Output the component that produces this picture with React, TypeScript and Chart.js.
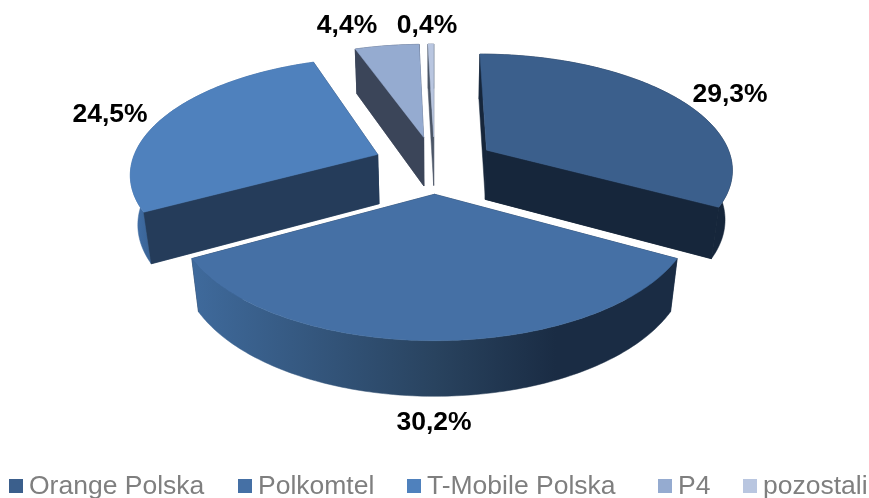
import React, { useEffect, useRef } from "react";
import { Chart, registerables } from "chart.js";

Chart.register(...registerables);

const categories = ["Orange Polska", "Polkomtel", "T-Mobile Polska", "P4", "pozostali"];
const shares = [29.3, 30.2, 24.5, 4.4, 0.4];
const topColors = ["#3b5f8c", "#4570a5", "#4f81bd", "#95abd0", "#b9c6e0"];
const wallColors = ["#16263b", "#1a2d47", "#253c5a", "#3b4559", "#4a5566"];
const rimStops: [number, string][][] = [
  [[0, "#16263b"], [1, "#16263b"]],
  [[0, "#3f6a9c"], [0.5, "#29435f"], [0.75, "#1a2c44"], [1, "#1a2c44"]],
  [[0, "#4372ab"], [0.1, "#3a6497"], [1, "#3a6497"]],
  [[0, "#3b4559"], [1, "#3b4559"]],
  [[0, "#4a5566"], [1, "#4a5566"]],
];
const drawOrder = [2, 3, 4, 0, 1];
const labelCenters = [
  [730, 102],
  [434, 430],
  [110, 122],
  [347, 33],
  [427, 33],
];
const legendX = [9, 238, 407, 658, 743];

const CX = 434.5, CY = 164.5, RX = 246.5, RY = 114.5, K = 0.15, KZ = 0.025, EXPLODE = 0.25, DEPTH = 51;
const FONT = '"Liberation Sans", Arial, sans-serif';

function project(X: number, Y: number, z: number) {
  const w = 1 + K * Y + KZ * z;
  return { x: CX + (RX * X) / w, y: CY - (RY * Y) / w + (z * DEPTH) / w };
}

const pie3d = {
  id: "pie3d",
  beforeDatasetDraw(chart: any) {
    const ctx: CanvasRenderingContext2D = chart.ctx;
    const arcs = chart.getDatasetMeta(0).data;
    ctx.save();
    for (const i of drawOrder) {
      const p = arcs[i].getProps(["startAngle", "endAngle"], true);
      const a0 = p.startAngle + Math.PI / 2;
      const a1 = p.endAngle + Math.PI / 2;
      const mid = (a0 + a1) / 2;
      const ox = EXPLODE * Math.sin(mid);
      const oy = EXPLODE * Math.cos(mid);
      const n = Math.max(4, Math.ceil((a1 - a0) * 60));
      const rim = (z: number) => {
        const pts = [];
        for (let s = 0; s <= n; s++) {
          const t = a0 + ((a1 - a0) * s) / n;
          pts.push(project(ox + Math.sin(t), oy + Math.cos(t), z));
        }
        return pts;
      };
      const topRim = rim(0);
      const botRim = rim(1);
      const tip0 = project(ox, oy, 0);
      const tip1 = project(ox, oy, 1);
      const poly = (pts: { x: number; y: number }[], fill: any) => {
        ctx.beginPath();
        pts.forEach((q, j) => (j ? ctx.lineTo(q.x, q.y) : ctx.moveTo(q.x, q.y)));
        ctx.closePath();
        ctx.fillStyle = fill;
        ctx.strokeStyle = fill;
        ctx.lineWidth = 0.5;
        ctx.fill();
        ctx.stroke();
      };
      // radial walls
      poly([tip0, topRim[0], botRim[0], tip1], wallColors[i]);
      poly([tip0, topRim[n], botRim[n], tip1], wallColors[i]);
      // rim wall
      const xs = topRim.map((q) => q.x);
      const g = ctx.createLinearGradient(Math.min(...xs), 0, Math.max(...xs), 0);
      rimStops[i].forEach(([o, c]) => g.addColorStop(o, c));
      poly([...topRim, ...botRim.slice().reverse()], g);
      // radial walls that face the viewer stay in front of the rim
      if (i === 0) poly([tip0, topRim[n], botRim[n], tip1], wallColors[i]);
      if (i === 2 || i === 3) poly([tip0, topRim[0], botRim[0], tip1], wallColors[i]);
      // top face
      poly([tip0, ...topRim], topColors[i]);
    }
    ctx.restore();
    return false;
  },
  afterDatasetsDraw(chart: any) {
    const ctx: CanvasRenderingContext2D = chart.ctx;
    ctx.save();
    ctx.textBaseline = "alphabetic";
    ctx.textAlign = "center";
    ctx.font = `bold 26.5px ${FONT}`;
    ctx.fillStyle = "#000000";
    shares.forEach((v, i) => {
      ctx.fillText(v.toFixed(1).replace(".", ",") + "%", labelCenters[i][0], labelCenters[i][1]);
    });
    ctx.textAlign = "left";
    ctx.font = `26.5px ${FONT}`;
    categories.forEach((c, i) => {
      ctx.fillStyle = topColors[i];
      ctx.fillRect(legendX[i], 479, 14, 14);
      ctx.fillStyle = "#7f7f7f";
      ctx.fillText(c, legendX[i] + 20, 494);
    });
    ctx.restore();
  },
};

export default function App() {
  const ref = useRef<HTMLCanvasElement>(null);
  useEffect(() => {
    const chart = new Chart(ref.current as HTMLCanvasElement, {
      type: "pie",
      data: {
        labels: categories,
        datasets: [{ data: shares, backgroundColor: topColors, borderWidth: 0 }],
      },
      options: {
        responsive: false,
        animation: false,
        plugins: { legend: { display: false }, tooltip: { enabled: false } },
      },
      plugins: [pie3d as any],
    });
    return () => chart.destroy();
  }, []);
  return (
    <div style={{ position: "fixed", left: 0, top: 0, background: "#fff" }}>
      <canvas ref={ref} width={869} height={498} style={{ display: "block" }} />
    </div>
  );
}
